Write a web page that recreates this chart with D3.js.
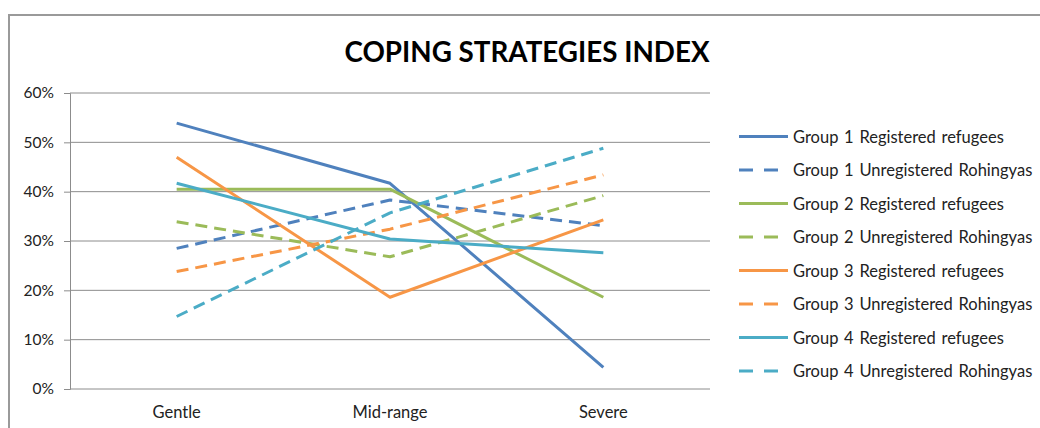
<!DOCTYPE html>
<html><head><meta charset="utf-8">
<script src="https://cdn.jsdelivr.net/npm/d3@7"></script>
<style>body{margin:0;background:#fff;} svg{display:block;}</style>
</head><body>
<svg id="c" width="1040" height="428"></svg>
<script>
const categories = ["Gentle", "Mid-range", "Severe"];
const seriesNames = [
  "Group 1 Registered refugees",
  "Group 1 Unregistered Rohingyas",
  "Group 2 Registered refugees",
  "Group 2 Unregistered Rohingyas",
  "Group 3 Registered refugees",
  "Group 3 Unregistered Rohingyas",
  "Group 4 Registered refugees",
  "Group 4 Unregistered Rohingyas"
];
const g1Reg = [0.539, 0.417, 0.044];
const g1Unreg = [0.285, 0.383, 0.331];
const g2Reg = [0.405, 0.405, 0.186];
const g2Unreg = [0.339, 0.268, 0.392];
const g3Reg = [0.470, 0.186, 0.343];
const g3Unreg = [0.238, 0.324, 0.434];
const g4Reg = [0.417, 0.304, 0.276];
const g4Unreg = [0.147, 0.357, 0.488];
const seriesValues = [g1Reg, g1Unreg, g2Reg, g2Unreg, g3Reg, g3Unreg, g4Reg, g4Unreg];
const seriesColors = ["#4F81BD", "#4F81BD", "#9BBB59", "#9BBB59", "#F79646", "#F79646", "#4BACC6", "#4BACC6"];
const seriesDashed = [false, true, false, true, false, true, false, true];
const yTicks = [0, 0.1, 0.2, 0.3, 0.4, 0.5, 0.6];
const title = "COPING STRATEGIES INDEX";

const svg = d3.select("#c");
const font = "Lato, 'Open Sans', sans-serif";
const L = 70, R = 710, T = 93, B = 389;

// frame
svg.append("path").attr("d", "M9,428 V15 H1040").attr("fill", "none")
  .attr("stroke", "#9a9a9a").attr("stroke-width", 2);

// title
svg.append("text").attr("x", 527).attr("y", 62).attr("text-anchor", "middle")
  .attr("font-family", font).attr("font-weight", "bold").attr("font-size", 29)
  .attr("textLength", 365).attr("lengthAdjust", "spacingAndGlyphs")
  .attr("fill", "#000").text(title);

const x = d3.scaleBand().domain(categories).range([L, R]);
const y = d3.scaleLinear().domain([0, 0.6]).range([B, T]);

// gridlines
svg.append("g").selectAll("line").data(yTicks).join("line")
  .attr("x1", L).attr("x2", R).attr("y1", d => y(d)).attr("y2", d => y(d))
  .attr("stroke", "#8c8c8c").attr("stroke-width", 1);

// y axis
const yAxis = svg.append("g").attr("transform", `translate(${L},0)`)
  .call(d3.axisLeft(y).tickValues(yTicks).tickFormat(d3.format(".0%")).tickSize(6).tickPadding(10));
yAxis.select(".domain").attr("stroke", "#8c8c8c");
yAxis.selectAll(".tick line").attr("stroke", "#8c8c8c");
yAxis.selectAll("text").attr("font-family", font).attr("font-size", 15.5).attr("fill", "#222");

// x axis labels
const xAxis = svg.append("g").attr("transform", `translate(0,${B})`)
  .call(d3.axisBottom(x).tickSize(0).tickPadding(17));
xAxis.select(".domain").remove();
xAxis.selectAll("text").attr("font-family", font).attr("font-size", 16.5).attr("fill", "#222");

const line = d3.line().x((d, i) => x(categories[i]) + x.bandwidth() / 2).y(d => y(d));

svg.append("g").selectAll("path").data(seriesValues).join("path")
  .attr("d", d => line(d)).attr("fill", "none")
  .attr("stroke", (d, i) => seriesColors[i]).attr("stroke-width", 3)
  .attr("stroke-linejoin", "round")
  .attr("stroke-dasharray", (d, i) => seriesDashed[i] ? "12,7" : null);

// legend
const lg = svg.append("g").selectAll("g").data(seriesNames).join("g")
  .attr("transform", (d, i) => `translate(739,${136.5 + i * 33.5})`);
lg.append("line").attr("x1", 0).attr("x2", 49).attr("y1", 0).attr("y2", 0)
  .attr("stroke", (d, i) => seriesColors[i]).attr("stroke-width", 3)
  .attr("stroke-dasharray", (d, i) => seriesDashed[i] ? "14,11" : null);
lg.append("text").attr("x", 54).attr("y", 6)
  .attr("font-family", font).attr("font-size", 16.5).attr("word-spacing", 1.5).attr("fill", "#222")
  .text(d => d);
</script>
</body></html>
